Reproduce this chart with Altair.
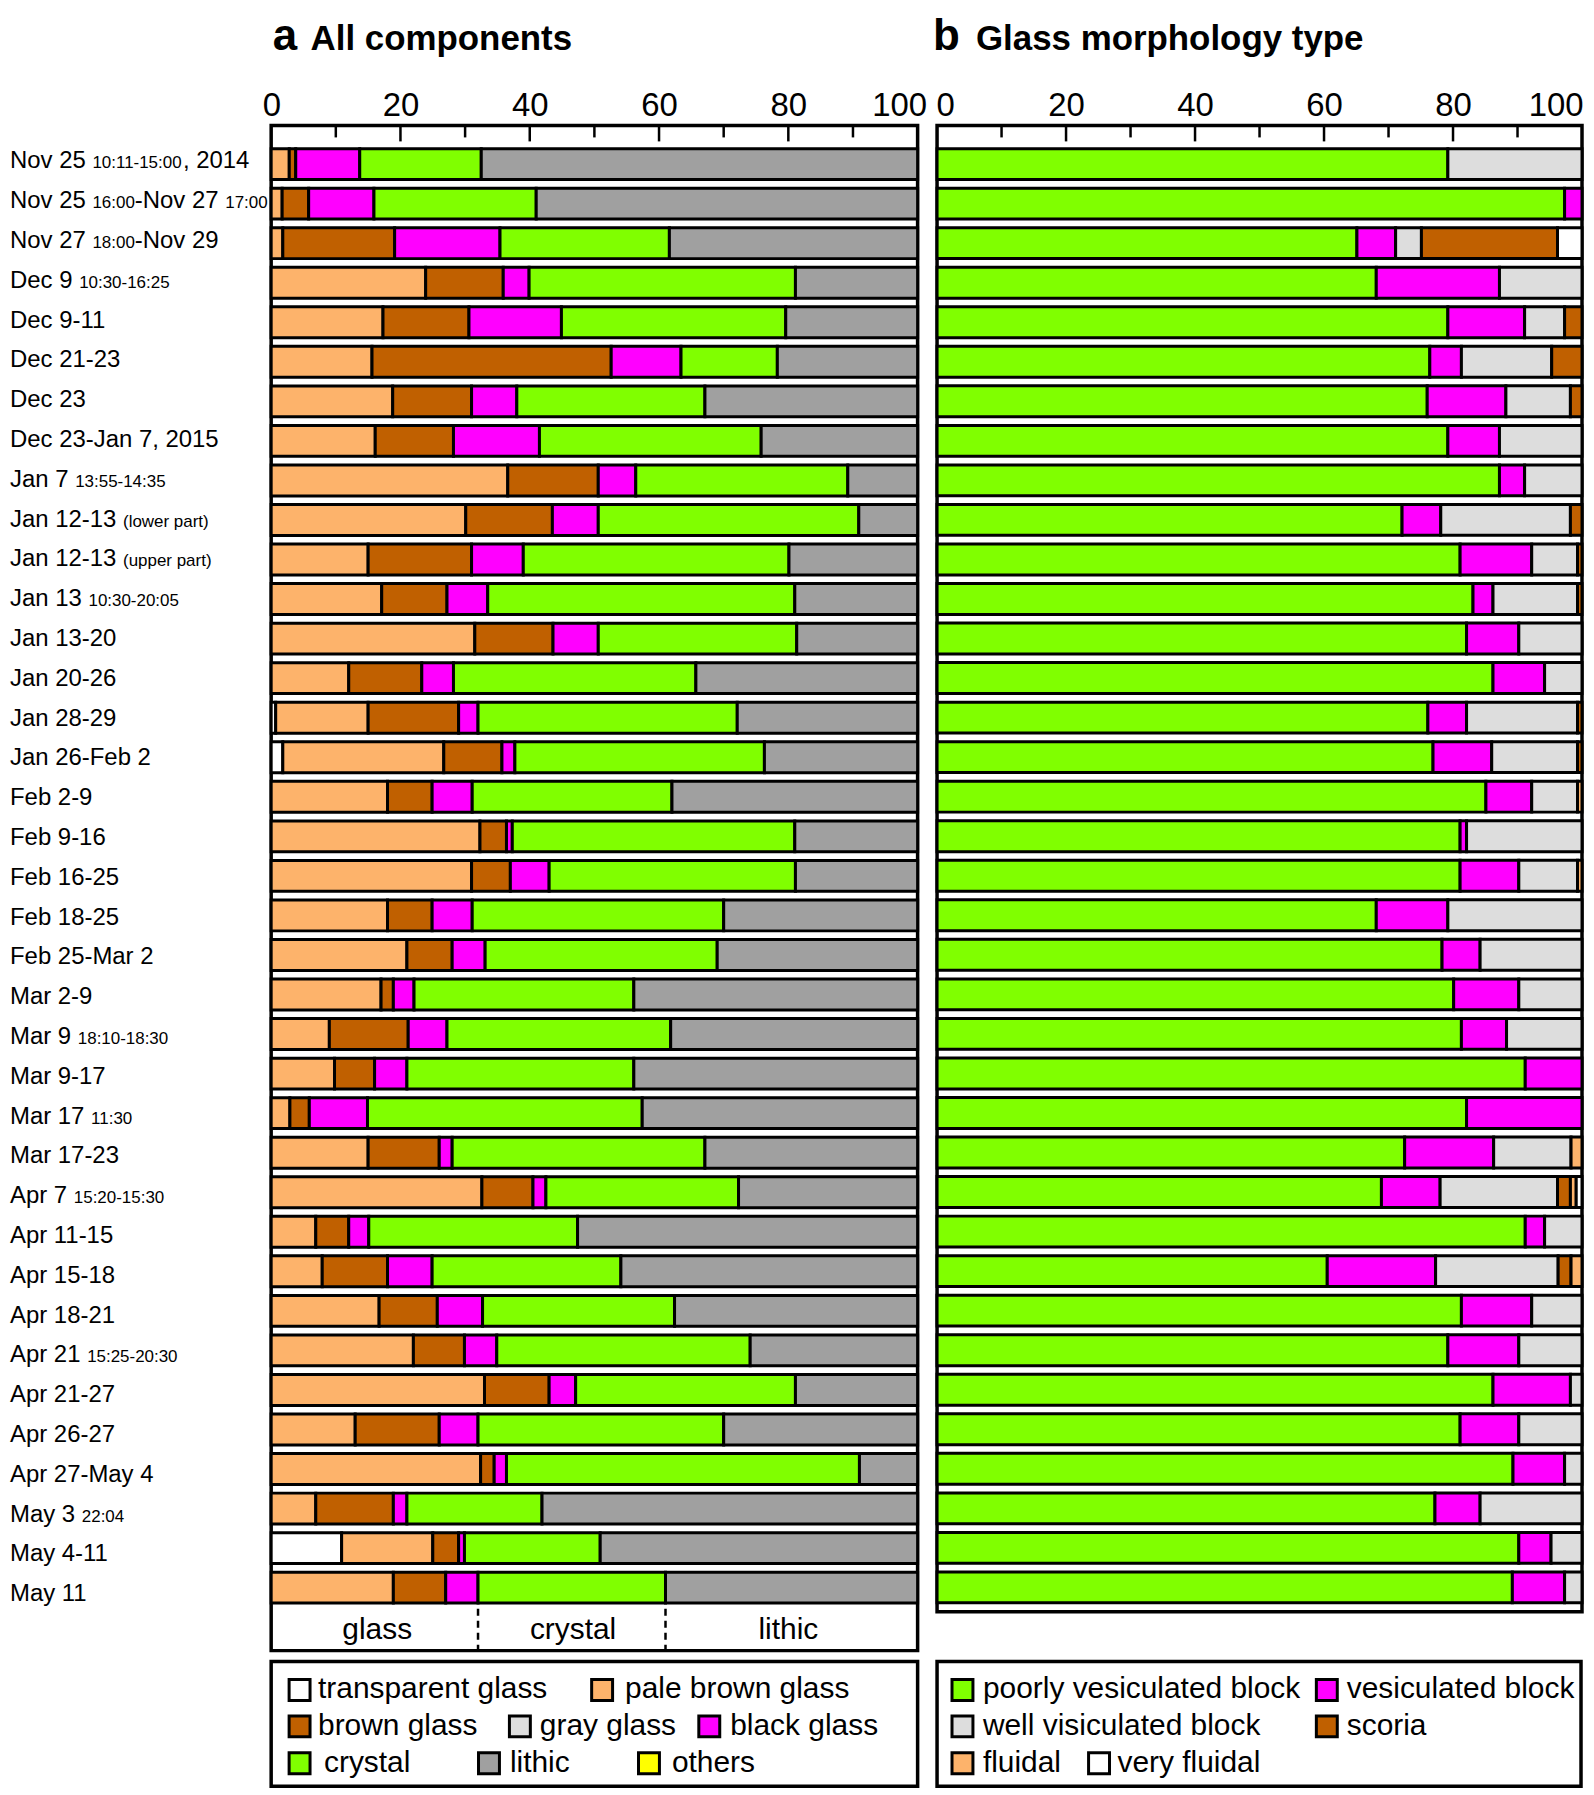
import altair as alt
import pandas as pd

FONT = "Liberation Sans"

# ---------------- row labels (large / small parts) ----------------
label_parts = [
    [("Nov 25 ", "L"), ("10:11-15:00", "S"), (", 2014", "L")],
    [("Nov 25 ", "L"), ("16:00", "S"), ("-Nov 27 ", "L"), ("17:00", "S")],
    [("Nov 27 ", "L"), ("18:00", "S"), ("-Nov 29", "L")],
    [("Dec 9 ", "L"), ("10:30-16:25", "S")],
    [("Dec 9-11", "L")],
    [("Dec 21-23", "L")],
    [("Dec 23", "L")],
    [("Dec 23-Jan 7, 2015", "L")],
    [("Jan 7 ", "L"), ("13:55-14:35", "S")],
    [("Jan 12-13 ", "L"), ("(lower part)", "S")],
    [("Jan 12-13 ", "L"), ("(upper part)", "S")],
    [("Jan 13 ", "L"), ("10:30-20:05", "S")],
    [("Jan 13-20", "L")],
    [("Jan 20-26", "L")],
    [("Jan 28-29", "L")],
    [("Jan 26-Feb 2", "L")],
    [("Feb 2-9", "L")],
    [("Feb 9-16", "L")],
    [("Feb 16-25", "L")],
    [("Feb 18-25", "L")],
    [("Feb 25-Mar 2", "L")],
    [("Mar 2-9", "L")],
    [("Mar 9 ", "L"), ("18:10-18:30", "S")],
    [("Mar 9-17", "L")],
    [("Mar 17 ", "L"), ("11:30", "S")],
    [("Mar 17-23", "L")],
    [("Apr 7 ", "L"), ("15:20-15:30", "S")],
    [("Apr 11-15", "L")],
    [("Apr 15-18", "L")],
    [("Apr 18-21", "L")],
    [("Apr 21 ", "L"), ("15:25-20:30", "S")],
    [("Apr 21-27", "L")],
    [("Apr 26-27", "L")],
    [("Apr 27-May 4", "L")],
    [("May 3 ", "L"), ("22:04", "S")],
    [("May 4-11", "L")],
    [("May 11", "L")],
]

# ---------------- panel a: all components (%) ----------------
a_order = ["transparent glass", "pale brown glass", "brown glass", "gray glass",
           "black glass", "crystal", "lithic", "others"]
a_colors = ["#FFFFFF", "#FDB36B", "#C06000", "#DDDDDD", "#FF00FF", "#80FF00", "#A0A0A0", "#FFFF00"]

transparent = [0, 0, 0, 0, 0, 0, 0, 0, 0, 0, 0, 0, 0, 0, 0.7, 1.8, 0, 0, 0, 0, 0, 0, 0, 0, 0,
               0, 0, 0, 0, 0, 0, 0, 0, 0, 0, 10.9, 0]
pale_brown = [2.8, 1.7, 1.8, 23.9, 17.3, 15.6, 18.8, 16.1, 36.6, 30.1, 15.0, 17.1, 31.5, 12.0,
              14.3, 24.9, 18.0, 32.3, 31.0, 18.0, 21.0, 17.0, 9.0, 9.8, 2.9, 15.0, 32.6, 6.9,
              7.9, 16.7, 22.0, 33.0, 13.0, 32.4, 6.9, 14.1, 18.9]
brown = [1.0, 4.1, 17.3, 12.0, 13.3, 37.0, 12.2, 12.1, 14.0, 13.4, 16.0, 10.1, 12.1, 11.3, 14.0,
         9.0, 6.9, 4.1, 6.0, 6.9, 7.0, 1.9, 12.2, 6.2, 3.0, 11.0, 7.9, 5.1, 10.1, 9.0, 7.9,
         10.0, 13.0, 2.1, 12.0, 4.0, 8.1]
black_glass = [9.9, 10.1, 16.3, 4.0, 14.3, 10.8, 7.0, 13.3, 5.8, 7.1, 8.0, 6.3, 7.0, 4.9, 3.0,
               2.0, 6.2, 0.9, 6.0, 6.2, 5.1, 3.2, 6.0, 5.0, 9.0, 2.0, 2.0, 3.1, 6.9, 7.0, 5.0,
               4.1, 6.0, 1.9, 2.1, 0.9, 5.0]
crystal = [18.8, 25.1, 26.2, 41.2, 34.7, 14.9, 29.1, 34.3, 32.8, 40.3, 41.1, 47.5, 30.7, 37.5,
           40.1, 38.6, 30.9, 43.7, 38.1, 38.9, 35.9, 34.0, 34.6, 35.1, 42.5, 39.1, 29.8, 32.3,
           29.2, 29.7, 39.2, 34.0, 38.0, 54.6, 20.9, 21.0, 29.0]
lithic = [67.5, 59.0, 38.4, 18.9, 20.4, 21.7, 32.9, 24.2, 10.8, 9.1, 19.9, 19.0, 18.7, 34.3,
          27.9, 23.7, 38.0, 19.0, 18.9, 30.0, 31.0, 43.9, 38.2, 43.9, 42.6, 32.9, 27.7, 52.6,
          45.9, 37.6, 25.9, 18.9, 30.0, 9.0, 58.1, 49.1, 39.0]

# ---------------- panel b: glass morphology type (%) ----------------
b_order = ["poorly vesiculated block", "vesiculated block", "well visiculated block",
           "scoria", "fluidal", "very fluidal"]
b_colors = ["#80FF00", "#FF00FF", "#DDDDDD", "#C06000", "#FDB36B", "#FFFFFF"]

poorly = [79.2, 97.3, 65.1, 68.1, 79.2, 76.4, 76.0, 79.2, 87.2, 72.1, 81.1, 83.1, 82.1, 86.2,
          76.1, 76.9, 85.1, 81.1, 81.1, 68.1, 78.3, 80.1, 81.3, 91.2, 82.1, 72.5, 68.9, 91.2,
          60.5, 81.3, 79.2, 86.2, 81.1, 89.3, 77.2, 90.2, 89.2]
vesiculated = [0, 2.7, 6.0, 19.1, 11.9, 4.9, 12.2, 8.0, 3.9, 6.0, 11.1, 3.1, 8.1, 8.0, 6.0, 9.1,
               7.1, 1.0, 9.1, 11.1, 5.9, 10.1, 7.0, 8.8, 17.9, 13.8, 9.1, 3.0, 16.8, 10.9, 11.0,
               12.0, 9.1, 8.0, 7.0, 5.0, 8.1]
well = [20.8, 0, 4.0, 12.8, 6.2, 14.0, 10.0, 12.8, 8.9, 20.1, 7.1, 13.1, 9.8, 5.8, 17.2, 13.3,
        7.1, 17.9, 9.1, 20.8, 15.8, 9.8, 11.7, 0, 0, 12.0, 18.2, 5.8, 19.0, 7.8, 9.8, 1.8, 9.8,
        2.7, 15.8, 4.8, 2.7]
scoria = [0, 0, 21.1, 0, 2.7, 4.7, 1.8, 0, 0, 1.8, 0.7, 0.7, 0, 0, 0.7, 0.7, 0, 0, 0, 0, 0, 0,
          0, 0, 0, 0, 2.0, 0, 2.0, 0, 0, 0, 0, 0, 0, 0, 0]
fluidal = [0, 0, 0, 0, 0, 0, 0, 0, 0, 0, 0, 0, 0, 0, 0, 0, 0.7, 0, 0.7, 0, 0, 0, 0, 0, 0, 1.7,
           0.9, 0, 1.7, 0, 0, 0, 0, 0, 0, 0, 0]
very_fluidal = [0, 0, 3.8, 0, 0, 0, 0, 0, 0, 0, 0, 0, 0, 0, 0, 0, 0, 0, 0, 0, 0, 0, 0, 0, 0, 0,
                0.9, 0, 0, 0, 0, 0, 0, 0, 0, 0, 0]

# component class boundaries annotated under panel a
class_names = ["glass", "crystal", "lithic"]
class_centers = [16.4, 46.7, 80.0]
class_bounds = [32.0, 61.0]
tick_values = [0, 20, 40, 60, 80, 100]
major_ticks = [20, 40, 60, 80]
minor_ticks = [10, 30, 50, 70, 90]

# ---------------- layout constants ----------------
ROW_PX = 39.93
H_A, H_B = 1530, 1491
W_A, W_B, W_L = 648.5, 647, 242.5
Y_TOP = -0.851
Y_A_BOT = Y_TOP + H_A / ROW_PX
Y_B_BOT = Y_TOP + H_B / ROW_PX
FS_L, FS_S, FS_LEG, FS_TICK = 24, 17, 30, 33

ARIAL = {' ': 278, ',': 278, '-': 333, ':': 278, '(': 333, ')': 333,
         'A': 667, 'D': 722, 'F': 611, 'J': 500, 'M': 833, 'N': 722,
         'a': 556, 'b': 556, 'c': 500, 'e': 556, 'g': 556, 'l': 222, 'n': 556, 'o': 556,
         'p': 556, 'r': 333, 't': 278, 'u': 556, 'v': 500, 'w': 722, 'y': 500, 'i': 222, 'k': 500}


def text_width(s, size):
    return sum(ARIAL.get(ch, 556) for ch in s) / 1000.0 * size


lab_rows = []
for i, parts in enumerate(label_parts):
    x = 0.0
    for txt, kind in parts:
        fs = FS_L if kind == "L" else FS_S
        lab_rows.append({"row": i, "text": txt, "x": x, "size": fs})
        x += text_width(txt, fs)
lab_df = pd.DataFrame(lab_rows)


def long_df(series, names, colors):
    cmap = dict(zip(names, colors))
    recs = []
    for i in range(len(label_parts)):
        s = 0.0
        for name, vals in series:
            v = vals[i]
            if v > 0:
                recs.append({"row": i, "comp": name, "col": cmap[name],
                             "start": s, "end": min(100.0, s + v)})
            s += v
    return pd.DataFrame(recs)


df_a = long_df([("transparent glass", transparent), ("pale brown glass", pale_brown),
                ("brown glass", brown), ("black glass", black_glass),
                ("crystal", crystal), ("lithic", lithic)], a_order, a_colors)
df_b = long_df(list(zip(b_order, [poorly, vesiculated, well, scoria, fluidal, very_fluidal])),
               b_order, b_colors)

xs = alt.Scale(domain=[0, 100], nice=False, zero=False)


def make_axis(flush_offset):
    return alt.Axis(orient="top", values=tick_values, ticks=False, domain=False, grid=False,
                    labelFontSize=FS_TICK, labelFont=FONT, labelColor="black",
                    labelFlush=True, labelFlushOffset=flush_offset, labelPadding=10,
                    labelBaseline="alphabetic", title=None)


def panel(df, height, ybot, width, letter, title, letter_x, title_x, annotate, flush_offset):
    x_axis = make_axis(flush_offset)
    ys = alt.Scale(domain=[Y_TOP, ybot], reverse=True, nice=False, zero=False)
    bars = alt.Chart(df).mark_bar(size=31, stroke="black", strokeWidth=3).encode(
        x=alt.X("start:Q", scale=xs, axis=x_axis),
        x2="end:Q",
        y=alt.Y("row:Q", scale=ys, axis=None),
        fill=alt.Fill("col:N", scale=None),
        tooltip=["comp:N"],
    )
    major = alt.Chart(pd.DataFrame({"start": major_ticks})).mark_rule(
        color="black", strokeWidth=2.5).encode(
        x=alt.X("start:Q", scale=xs, axis=x_axis), y=alt.value(0), y2=alt.value(16))
    minor = alt.Chart(pd.DataFrame({"start": minor_ticks})).mark_rule(
        color="black", strokeWidth=2.5).encode(
        x=alt.X("start:Q", scale=xs, axis=x_axis), y=alt.value(0), y2=alt.value(12))
    t1 = alt.Chart(pd.DataFrame({"t": [letter]})).mark_text(
        align="left", baseline="alphabetic", fontSize=44, fontWeight="bold", font=FONT,
        color="black").encode(x=alt.value(letter_x), y=alt.value(-76), text="t:N")
    t2 = alt.Chart(pd.DataFrame({"t": [title]})).mark_text(
        align="left", baseline="alphabetic", fontSize=35, fontWeight="bold", font=FONT,
        color="black").encode(x=alt.value(title_x), y=alt.value(-76), text="t:N")
    layers = [bars, major, minor, t1, t2]
    if annotate:
        dashes = alt.Chart(pd.DataFrame({"start": class_bounds})).mark_rule(
            color="black", strokeWidth=2.5, strokeDash=[7, 5]).encode(
            x=alt.X("start:Q", scale=xs, axis=x_axis), y=alt.value(height - 42),
            y2=alt.value(height))
        ctext = alt.Chart(pd.DataFrame({"start": class_centers, "t": class_names})).mark_text(
            baseline="alphabetic", fontSize=FS_LEG, font=FONT, color="black").encode(
            x=alt.X("start:Q", scale=xs, axis=x_axis), y=alt.value(height - 12), text="t:N")
        layers += [dashes, ctext]
    return alt.layer(*layers).properties(width=width, height=height)


pa = panel(df_a, H_A, Y_A_BOT, W_A, "a", "All components", 1.5, 39.5, True, 9)
pb = panel(df_b, H_B, Y_B_BOT, W_B, "b", "Glass morphology type", -4, 39, False, 1)

labels_chart = alt.Chart(lab_df).mark_text(
    align="left", baseline="alphabetic", dy=9, font=FONT, color="black").encode(
    x=alt.X("x:Q", scale=None, axis=None),
    y=alt.Y("row:Q", scale=alt.Scale(domain=[Y_TOP, Y_A_BOT], reverse=True, nice=False, zero=False),
            axis=None),
    text="text:N",
    size=alt.Size("size:Q", scale=None),
).properties(width=W_L, height=H_A, view=alt.ViewBackground(stroke="transparent"))

# ---------------- custom legends ----------------
H_LEG = 125
LEG_ROWS = [28.5, 65, 102]
LEG_BASE = [36.5, 73.5, 111]
legA_sx = [28.5, 332, 28.5, 249.5, 439.5, 28.5, 218.5, 379]
legA_tx = [47, 355, 47, 269.5, 460.5, 53, 239.5, 402]
legA_r = [0, 0, 1, 1, 1, 2, 2, 2]
legB_sx = [25.5, 391, 25.5, 391, 25.5, 162.5]
legB_tx = [46, 411, 46, 411, 46, 181]
legB_r = [0, 0, 1, 1, 2, 2]


def legend_chart(names, colors, sx, tx, rows, width):
    df = pd.DataFrame({"name": names, "col": colors, "sx": sx, "tx": tx,
                       "y": [LEG_ROWS[r] for r in rows], "yb": [LEG_BASE[r] for r in rows]})
    sw = alt.Chart(df).mark_square(size=441, filled=True, stroke="black", strokeWidth=3,
                                   opacity=1).encode(
        x=alt.X("sx:Q", scale=None, axis=None), y=alt.Y("y:Q", scale=None, axis=None),
        fill=alt.Fill("col:N", scale=None))
    tt = alt.Chart(df).mark_text(align="left", baseline="alphabetic", fontSize=FS_LEG, font=FONT,
                                 color="black").encode(
        x=alt.X("tx:Q", scale=None, axis=None), y=alt.Y("yb:Q", scale=None, axis=None),
        text="name:N")
    return alt.layer(sw, tt).properties(width=width, height=H_LEG)


la = legend_chart(a_order, a_colors, legA_sx, legA_tx, legA_r, W_A)
lb = legend_chart(b_order, b_colors, legB_sx, legB_tx, legB_r, 646)

spacer = alt.Chart(pd.DataFrame({"t": [""]})).mark_text().encode(text="t:N").properties(
    width=W_L, height=H_LEG, view=alt.ViewBackground(stroke="transparent"))

chart = alt.concat(
    labels_chart, pa, pb, spacer, la, lb,
    columns=3, spacing=alt.RowColnumber(row=11, column=19), bounds="flush", align="each",
).properties(
    padding={"left": 0, "top": 2, "right": 0, "bottom": 0}
).configure_view(stroke="black", strokeWidth=3.5)

chart.save("out.html", embed_options={"renderer": "svg", "actions": False})
